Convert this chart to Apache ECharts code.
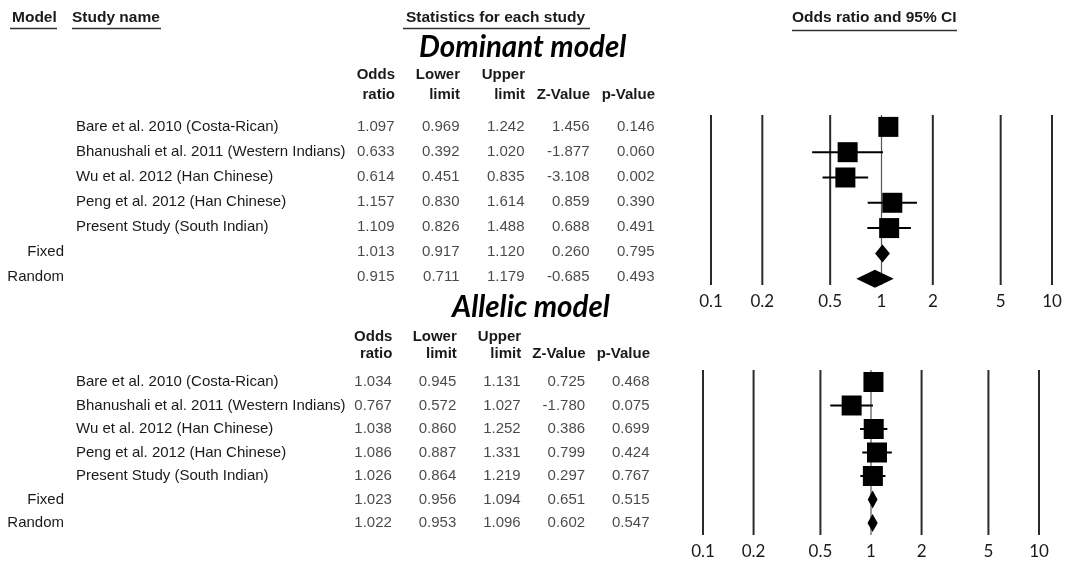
<!DOCTYPE html>
<html><head><meta charset="utf-8">
<script src="https://cdn.jsdelivr.net/npm/echarts@6/dist/echarts.min.js"></script>
<style>html,body{margin:0;padding:0;background:#fff}#c{width:1068px;height:563px}</style>
</head><body><div id="c"></div>
<script>
// ---------- data ----------
const studies = ['Bare et al. 2010 (Costa-Rican)', 'Bhanushali et al. 2011 (Western Indians)', 'Wu et al. 2012 (Han Chinese)', 'Peng et al. 2012 (Han Chinese)', 'Present Study (South Indian)', '', ''];
const models = ['', '', '', '', '', 'Fixed', 'Random'];
const rowKinds = ['study', 'study', 'study', 'study', 'study', 'summary', 'summary'];
const statHeaders = ['Odds\nratio', 'Lower\nlimit', 'Upper\nlimit', 'Z-Value', 'p-Value'];
const tickValues = [0.1, 0.2, 0.5, 1, 2, 5, 10];
const tickLabels = ['0.1', '0.2', '0.5', '1', '2', '5', '10'];

const domOR    = [1.097, 0.633, 0.614, 1.157, 1.109, 1.013, 0.915];
const domLower = [0.969, 0.392, 0.451, 0.830, 0.826, 0.917, 0.711];
const domUpper = [1.242, 1.020, 0.835, 1.614, 1.488, 1.120, 1.179];
const domZ     = [1.456, -1.877, -3.108, 0.859, 0.688, 0.260, -0.685];
const domP     = [0.146, 0.060, 0.002, 0.390, 0.491, 0.795, 0.493];

const allOR    = [1.034, 0.767, 1.038, 1.086, 1.026, 1.023, 1.022];
const allLower = [0.945, 0.572, 0.860, 0.887, 0.864, 0.956, 0.953];
const allUpper = [1.131, 1.027, 1.252, 1.331, 1.219, 1.094, 1.096];
const allZ     = [0.725, -1.780, 0.386, 0.799, 0.297, 0.651, 0.602];
const allP     = [0.468, 0.075, 0.699, 0.424, 0.767, 0.515, 0.547];

// ---------- helpers ----------
const SANS = "'Liberation Sans', Arial, sans-serif";
const TXT = '#1a1a1a';
const lg = Math.log10;

function tableData(cols) {
  const d = [];
  cols.forEach((col, c) => col.forEach((v, r) => d.push([c + 1, r, v.toFixed(3)])));
  return d;
}
function forestData(or, lo, hi) {
  return or.map((v, r) => [r, lg(v), lg(lo[r]), lg(hi[r]), rowKinds[r] === 'summary' ? 1 : 0]);
}
function tableXAxis(gridIndex, margin, lineHeight) {
  return {
    gridIndex, type: 'value', min: 0, max: 5, interval: 1, position: 'top',
    axisLine: {show: false}, axisTick: {show: false}, splitLine: {show: false},
    axisLabel: {
      margin, align: 'right', verticalAlign: 'bottom', fontFamily: SANS, fontWeight: 'bold',
      fontSize: 15, lineHeight, color: TXT,
      formatter: v => statHeaders[v - 1] || ''
    }
  };
}
function forestXAxis(gridIndex) {
  return {
    gridIndex, type: 'value', min: lg(tickValues[0]), max: lg(tickValues[tickValues.length - 1]),
    axisLine: {show: false}, axisTick: {show: false}, splitLine: {show: false},
    axisLabel: {
      customValues: tickValues.map(lg), margin: 8,
      fontFamily: "Lato, 'Open Sans', sans-serif", fontSize: 17, color: TXT,
      formatter: v => {
        const i = tickValues.findIndex(t => Math.abs(lg(t) - v) < 1e-6);
        return i >= 0 ? tickLabels[i] : '';
      }
    }
  };
}
function nameYAxis(gridIndex, data, align, margin) {
  return {
    gridIndex, type: 'category', data, inverse: true, position: 'left',
    axisLine: {show: false}, axisTick: {show: false}, splitLine: {show: false},
    axisLabel: {align, margin, fontFamily: SANS, fontSize: 15, color: TXT, interval: 0}
  };
}
function tableSeries(xi, yi, cols) {
  return {
    type: 'scatter', xAxisIndex: xi, yAxisIndex: yi, data: tableData(cols),
    symbolSize: 1, itemStyle: {color: 'rgba(0,0,0,0)'}, silent: true,
    label: {show: true, position: 'left', distance: 0, fontFamily: SANS, fontSize: 15, color: TXT,
      formatter: p => p.value[2]}
  };
}
function gridLineSeries(xi, yi) {
  return {
    type: 'custom', xAxisIndex: xi, yAxisIndex: yi, silent: true, clip: false, z: 1,
    data: tickValues.map(v => [lg(v), 0]),
    encode: {x: 0, y: 1},
    renderItem: (params, api) => {
      const cs = params.coordSys;
      const x = api.coord([api.value(0), 0])[0];
      const isOne = Math.abs(api.value(0)) < 1e-9;
      return {type: 'line', shape: {x1: x, y1: cs.y, x2: x, y2: cs.y + cs.height},
        style: {stroke: isOne ? '#555' : '#2a2a2a', lineWidth: isOne ? 1.2 : 2}};
    }
  };
}
function forestSeries(xi, yi, data) {
  return {
    type: 'custom', xAxisIndex: xi, yAxisIndex: yi, silent: true, clip: false, z: 3,
    data, encode: {x: [1, 2, 3], y: 0},
    renderItem: (params, api) => {
      const r = api.value(0);
      const c = api.coord([api.value(1), r]);
      const l = api.coord([api.value(2), r]);
      const h = api.coord([api.value(3), r]);
      if (api.value(4) === 1) {
        return {type: 'polygon', shape: {points: [[l[0], c[1]], [c[0], c[1] - 9], [h[0], c[1]], [c[0], c[1] + 9]]},
          style: {fill: '#000'}};
      }
      const s = 20;
      return {type: 'group', children: [
        {type: 'line', shape: {x1: l[0], y1: c[1], x2: h[0], y2: c[1]}, style: {stroke: '#000', lineWidth: 2}},
        {type: 'rect', shape: {x: c[0] - s / 2, y: c[1] - s / 2, width: s, height: s}, style: {fill: '#000'}}
      ]};
    }
  };
}
const headStyle = {fontFamily: SANS, fontWeight: 'bold', fontSize: 15.5, color: TXT};
const modelStyle = {fontFamily: "Lato, 'Open Sans', sans-serif", fontWeight: 'bold', fontStyle: 'italic', fontSize: 29.5, color: '#000'};
function uline(x1, x2, y) {
  return {type: 'line', shape: {x1, y1: y, x2, y2: y}, style: {stroke: '#333', lineWidth: 1.5}, silent: true};
}

const chart = echarts.init(document.getElementById('c'), null, {renderer: 'canvas'});
chart.setOption({
  backgroundColor: '#fff',
  animation: false,
  title: [
    {text: 'Model', left: 12, top: 10, padding: 0, textStyle: headStyle},
    {text: 'Study name', left: 72, top: 10, padding: 0, textStyle: headStyle},
    {text: 'Statistics for each study', left: 406, top: 10, padding: 0, textStyle: headStyle},
    {text: 'Odds ratio and 95% CI', left: 792, top: 10, padding: 0, textStyle: headStyle},
    {text: 'Dominant model', left: 419, top: 32, padding: 0, textStyle: modelStyle},
    {text: 'Allelic model', left: 452, top: 292, padding: 0, textStyle: modelStyle}
  ],
  graphic: [
    uline(10, 57, 28.5), uline(72, 161, 28.5), uline(403, 590, 28.5), uline(792, 957, 30.5)
  ],
  grid: [
    {left: 330, width: 325, top: 114.5, height: 175},
    {left: 711, width: 341, top: 115, height: 170},
    {left: 328, width: 322, top: 370.25, height: 164.5},
    {left: 703, width: 336, top: 370, height: 165}
  ],
  xAxis: [
    tableXAxis(0, 10, 20),
    forestXAxis(1),
    tableXAxis(2, 8, 17),
    forestXAxis(3)
  ],
  yAxis: [
    nameYAxis(0, studies, 'left', 330 - 76),
    nameYAxis(0, models, 'right', 330 - 64),
    {gridIndex: 1, type: 'value', inverse: true, min: -0.47, max: 6.25, show: false},
    nameYAxis(2, studies, 'left', 328 - 76),
    nameYAxis(2, models, 'right', 328 - 64),
    {gridIndex: 3, type: 'value', inverse: true, min: -0.51, max: 6.51, show: false}
  ],
  series: [
    tableSeries(0, 0, [domOR, domLower, domUpper, domZ, domP]),
    {type: 'scatter', xAxisIndex: 0, yAxisIndex: 1, data: []},
    gridLineSeries(1, 2),
    forestSeries(1, 2, forestData(domOR, domLower, domUpper)),
    tableSeries(2, 3, [allOR, allLower, allUpper, allZ, allP]),
    {type: 'scatter', xAxisIndex: 2, yAxisIndex: 4, data: []},
    gridLineSeries(3, 5),
    forestSeries(3, 5, forestData(allOR, allLower, allUpper))
  ]
});
</script>
</body></html>
